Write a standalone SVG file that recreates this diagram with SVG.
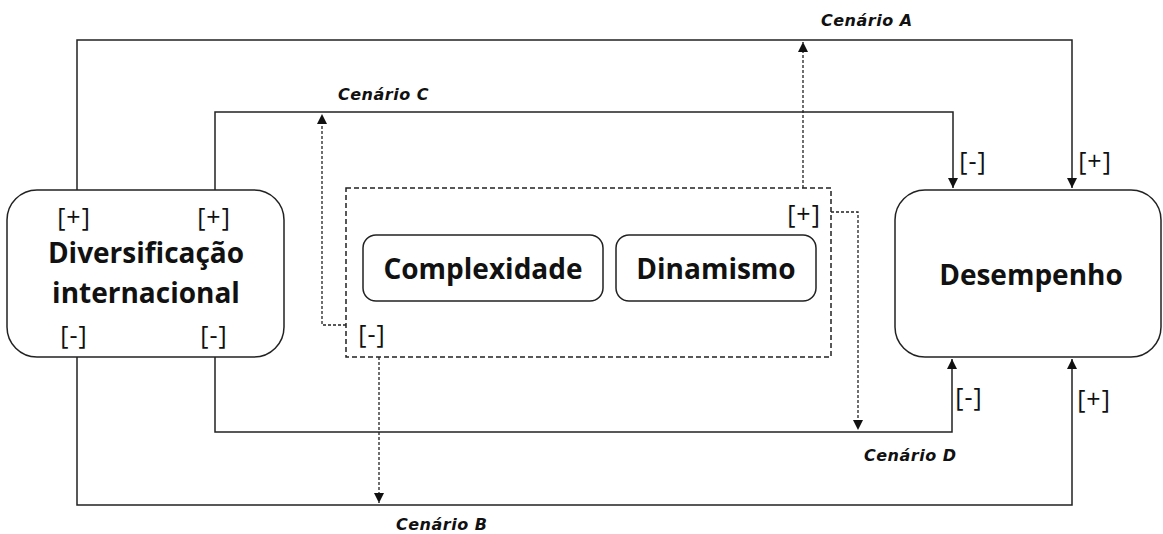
<svg xmlns="http://www.w3.org/2000/svg" width="1163" height="534" viewBox="0 0 1163 534">
<defs>
<style>
.box{fill:#fff;stroke:#222;stroke-width:1.5}
.dbox{fill:none;stroke:#222;stroke-width:1.5;stroke-dasharray:5,3}
.ln{fill:none;stroke:#222;stroke-width:1.5}
.dl{fill:none;stroke:#222;stroke-width:1.3;stroke-dasharray:3,2}
.t{font-family:"Open Sans","Noto Sans",sans-serif;font-weight:bold;font-size:28px;fill:#111;text-anchor:middle}
.s{font-family:"Open Sans","Noto Sans",sans-serif;font-size:25px;letter-spacing:1px;fill:#111;text-anchor:middle}
.c{font-family:"DejaVu Sans",Verdana,sans-serif;font-size:16px;letter-spacing:0.5px;font-weight:bold;font-style:italic;fill:#111}
</style>
<marker id="ah" viewBox="0 0 10 10" refX="10" refY="5" markerWidth="10" markerHeight="10" markerUnits="userSpaceOnUse" orient="auto">
<path d="M0,0 L10,5 L0,10 Z" fill="#111"/>
</marker>
</defs>
<rect width="1163" height="534" fill="#fff"/>
<g id="connectors">
<path class="ln" d="M77,190 V40 H1072 V188" marker-end="url(#ah)"/>
<path class="ln" d="M215,190 V112 H953 V188" marker-end="url(#ah)"/>
<path class="ln" d="M215,357 V432 H952 V359" marker-end="url(#ah)"/>
<path class="ln" d="M77,357 V505 H1072 V359" marker-end="url(#ah)"/>
<path class="dl" d="M346,325 H322 V114" marker-end="url(#ah)"/>
<path class="dl" d="M379,357 V503" marker-end="url(#ah)"/>
<path class="dl" d="M803,188 V42" marker-end="url(#ah)"/>
<path class="dl" d="M831,212 H858 V430" marker-end="url(#ah)"/>
</g>
<g id="diversificacao">
<rect class="box" x="7" y="190" width="277" height="167" rx="30"/>
<text class="s" x="74" y="226">[+]</text>
<text class="s" x="214" y="226">[+]</text>
<text class="t" x="146" y="263">Diversificação</text>
<text class="t" x="146" y="303">internacional</text>
<text class="s" x="74" y="344">[-]</text>
<text class="s" x="214" y="344">[-]</text>
</g>
<g id="ambiente">
<rect class="dbox" x="346" y="188" width="485" height="169"/>
<text class="s" x="804" y="223">[+]</text>
<text class="s" x="372" y="343">[-]</text>
</g>
<g id="complexidade">
<rect class="box" x="363" y="235" width="240" height="66" rx="13"/>
<text class="t" x="483" y="279">Complexidade</text>
</g>
<g id="dinamismo">
<rect class="box" x="616" y="235" width="200" height="66" rx="13"/>
<text class="t" x="716" y="279">Dinamismo</text>
</g>
<g id="desempenho">
<rect class="box" x="895" y="190" width="266" height="167" rx="30"/>
<text class="t" x="1031" y="285">Desempenho</text>
</g>
<g id="labels">
<text class="s" x="973" y="170">[-]</text>
<text class="s" x="1095" y="170">[+]</text>
<text class="s" x="969" y="406">[-]</text>
<text class="s" x="1094" y="408">[+]</text>
<text class="c" x="821" y="26">Cenário A</text>
<text class="c" x="338" y="100">Cenário C</text>
<text class="c" x="864" y="461">Cenário D</text>
<text class="c" x="396" y="530">Cenário B</text>
</g>
</svg>
